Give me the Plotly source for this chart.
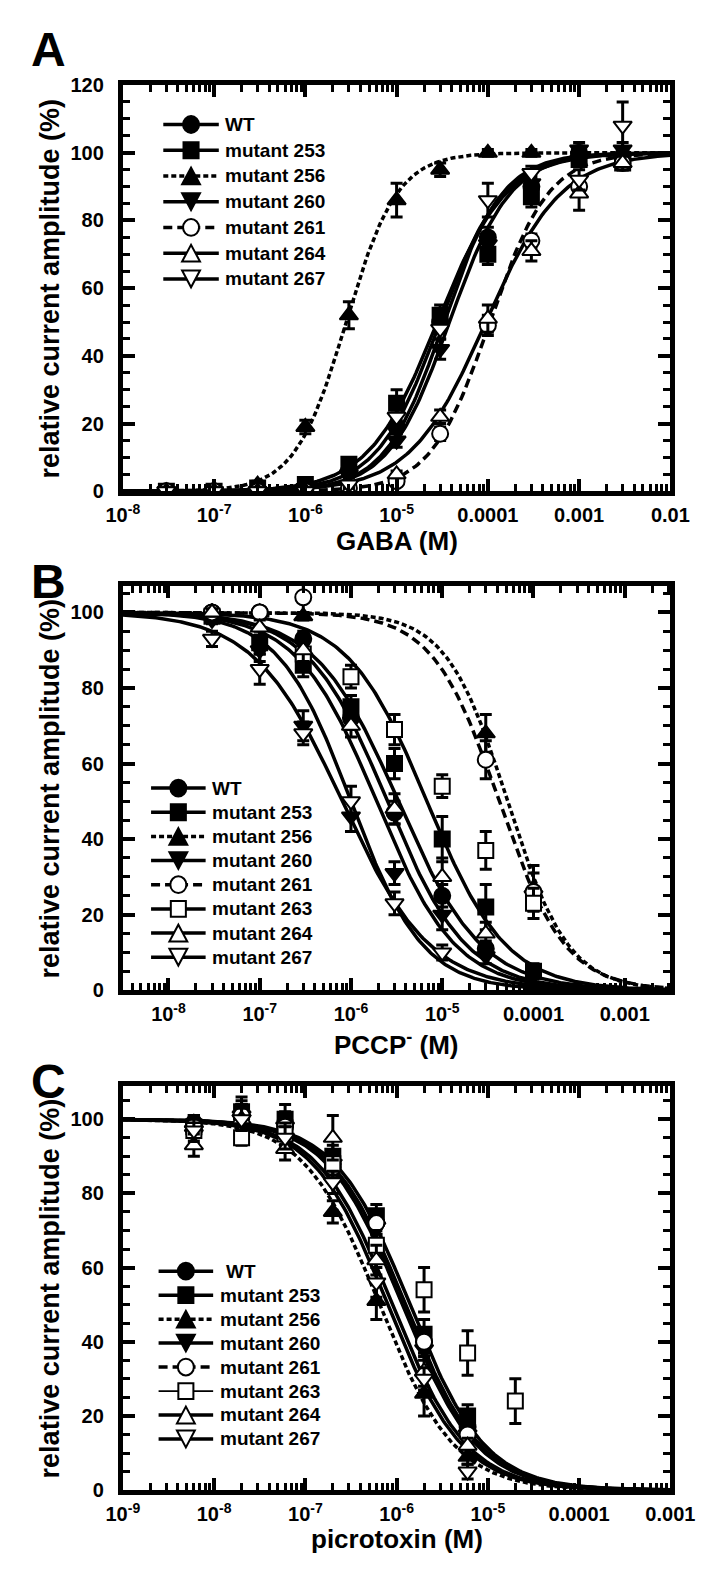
import numpy as np
import plotly.graph_objects as go

W, H = 709, 1573

# ---------------- data ----------------
names_A = ["WT", "mutant 253", "mutant 256", "mutant 260", "mutant 261", "mutant 264", "mutant 267"]
names_BC = ["WT", "mutant 253", "mutant 256", "mutant 260", "mutant 261", "mutant 263", "mutant 264", "mutant 267"]

# Panel A: GABA activation
gaba_conc = [3e-8, 1e-7, 3e-7, 1e-6, 3e-6, 1e-5, 3e-5, 1e-4, 3e-4, 1e-3, 3e-3]
A_WT = [0, 0, 0.5, 1, 6, 19, 50, 75, 90, 100, 99]
A_253 = [0, 0, 1, 2, 8, 26, 52, 70, 87, 98, 97]
A_256 = [0, 0, 2, 19, 52, 86, 95, 100, 100, 100, None]
A_260 = [0, 0, 0, 1, 5, 15, 42, 73, 91, 101, 101]
A_261 = [0, 0, 0, 0, 1, 3, 17, 49, 74, 90, 97]
A_264 = [0, 0, 0, 0, 0, 5, 22, 51, 71, 88, 97]
A_267 = [0, 0, 0, 0, 2, 22, 48, 86, 94, 92, 108]
A_WT_err = [1, 1, 1, 1, 1, 2, 3, 3, 2, 2, 2]
A_253_err = [1, 1, 1, 1, 2, 4, 3, 3, 3, 2, 2]
A_256_err = [1, 1, 1, 2, 4, 5, 2, 1, 1, 1, None]
A_260_err = [1, 1, 1, 1, 1, 2, 3, 3, 2, 2, 2]
A_261_err = [1, 1, 1, 1, 1, 1, 2, 3, 2, 2, 2]
A_264_err = [1, 1, 1, 1, 1, 1, 2, 4, 3, 5, 2]
A_267_err = [1, 1, 1, 1, 1, 2, 3, 5, 2, 3, 7]
A_EC50 = [3.0e-5, 2.8e-5, 2.8e-6, 3.8e-5, 1.05e-4, 9.5e-5, 3.3e-5]
A_nH = [1.25, 1.15, 1.55, 1.3, 1.35, 1.05, 1.35]

# Panel B: PCCP- inhibition
pccp_conc = [3e-8, 1e-7, 3e-7, 1e-6, 3e-6, 1e-5, 3e-5, 1e-4]
B_WT = [100, 100, 93, 72, 47, 25, 11, 0]
B_253 = [99, 92, 86, 75, 60, 40, 22, 5]
B_256 = [100, 100, 99, None, None, None, 68, 27]
B_260 = [98, 90, 70, 46, 31, 20, 9, None]
B_261 = [100, 100, 104, None, None, None, 61, 26]
B_263 = [None, None, 89, 83, 69, 54, 37, 23]
B_264 = [100, 96, 90, 70, 48, 30, 15, None]
B_267 = [93, 85, 68, 50, 23, 10, None, None]
B_WT_err = [1, 1, 2, 3, 3, 3, 2, 1]
B_253_err = [1, 3, 3, 3, 4, 6, 6, 2]
B_256_err = [1, 1, 1, None, None, None, 5, 6]
B_260_err = [1, 3, 4, 4, 3, 4, 2, None]
B_261_err = [1, 1, 4, None, None, None, 5, 5]
B_263_err = [None, None, 3, 3, 4, 3, 5, 4]
B_264_err = [1, 2, 3, 3, 4, 5, 3, None]
B_267_err = [2, 4, 3, 4, 3, 2, None, None]
B_IC50 = [2.5e-6, 3.3e-6, 5.2e-5, 0.8e-6, 4.2e-5, 6.8e-6, 1.9e-6, 1.0e-6]
B_nH = [1.0, 0.95, 1.3, 0.9, 1.2, 1.0, 1.0, 1.1]

# Panel C: picrotoxin inhibition
ptx_conc = [6e-9, 2e-8, 6e-8, 2e-7, 6e-7, 2e-6, 6e-6, 2e-5]
C_WT = [99, 101, 99, 88, 72, 40, 17, None]
C_253 = [98, 102, 100, 90, 74, 42, 20, None]
C_256 = [99, 102, 96, 75, 51, 26, 9, None]
C_260 = [96, 101, 98, 88, 71, 38, 15, None]
C_261 = [98, 101, 98, 87, 72, 40, 15, None]
C_263 = [97, 95, 96, 88, 66, 54, 37, 24]
C_264 = [93, 100, 92, 95, 62, 32, 12, None]
C_267 = [97, 100, 95, 83, 56, 30, 5, None]
C_WT_err = [2, 3, 3, 3, 3, 3, 2, None]
C_253_err = [3, 4, 4, 3, 3, 4, 3, None]
C_256_err = [2, 3, 3, 3, 5, 6, 2, None]
C_260_err = [3, 3, 3, 3, 3, 3, 2, None]
C_261_err = [2, 3, 3, 3, 3, 3, 2, None]
C_263_err = [2, 2, 3, 3, 4, 6, 6, 6]
C_264_err = [3, 3, 3, 6, 4, 4, 2, None]
C_267_err = [3, 3, 3, 3, 4, 3, 2, None]
C_IC50 = [1.25e-6, 1.4e-6, 0.65e-6, 1.15e-6, 1.2e-6, None, 0.9e-6, 0.8e-6]
C_nH = [1.05, 1.05, 1.05, 1.05, 1.05, None, 1.05, 1.05]

# tick labels
A_ticks = [1e-8, 1e-7, 1e-6, 1e-5, 1e-4, 1e-3, 1e-2]
A_ticktext = ["10<sup>-8</sup>", "10<sup>-7</sup>", "10<sup>-6</sup>", "10<sup>-5</sup>", "0.0001", "0.001", "0.01"]
B_ticks = [1e-8, 1e-7, 1e-6, 1e-5, 1e-4, 1e-3]
B_ticktext = ["10<sup>-8</sup>", "10<sup>-7</sup>", "10<sup>-6</sup>", "10<sup>-5</sup>", "0.0001", "0.001"]
C_ticks = [1e-9, 1e-8, 1e-7, 1e-6, 1e-5, 1e-4, 1e-3]
C_ticktext = ["10<sup>-9</sup>", "10<sup>-8</sup>", "10<sup>-7</sup>", "10<sup>-6</sup>", "10<sup>-5</sup>", "0.0001", "0.001"]

# ---------------- styles ----------------
FONT = "Liberation Sans, Arial, sans-serif"
symbols = {"WT": ("circle", "black"), "mutant 253": ("square", "black"),
           "mutant 256": ("triangle-up", "black"), "mutant 260": ("triangle-down", "black"),
           "mutant 261": ("circle", "white"), "mutant 263": ("square", "white"),
           "mutant 264": ("triangle-up", "white"), "mutant 267": ("triangle-down", "white")}
sizes = {"circle": 16, "square": 15, "triangle-up": 16, "triangle-down": 16}
dashes = {"mutant 256": "5px,3px", "mutant 261": "9px,5px"}

fig = go.Figure()


def px2x(p):
    return p / W


def px2y(p):
    return 1 - p / H


def add_panel(idx, conc, names, ys, errs, p50, nh, xr, activation):
    xa = "x" if idx == 1 else f"x{idx}"
    ya = "y" if idx == 1 else f"y{idx}"
    xs = np.logspace(xr[0], xr[1], 300)
    for n, c50, h in zip(names, p50, nh):
        if c50 is None:
            continue
        if activation:
            yc = 100.0 / (1.0 + (c50 / xs) ** h)
        else:
            yc = 100.0 / (1.0 + (xs / c50) ** h)
        fig.add_trace(go.Scatter(x=xs, y=yc, mode="lines", xaxis=xa, yaxis=ya,
                                 line=dict(color="black", width=3.5, dash=dashes.get(n, "solid")),
                                 showlegend=False, hoverinfo="skip"))
    for n, y, e in zip(names, ys, errs):
        sym, fill = symbols[n]
        fig.add_trace(go.Scatter(x=conc, y=y, mode="markers", xaxis=xa, yaxis=ya, name=n,
                                 marker=dict(symbol=sym, size=sizes[sym], color=fill,
                                             line=dict(color="black", width=2)),
                                 error_y=dict(type="data", array=e, visible=True, color="black",
                                              thickness=3, width=6),
                                 showlegend=False))


add_panel(1, gaba_conc, names_A,
          [A_WT, A_253, A_256, A_260, A_261, A_264, A_267],
          [A_WT_err, A_253_err, A_256_err, A_260_err, A_261_err, A_264_err, A_267_err],
          A_EC50, A_nH, (-8, -2), True)
add_panel(2, pccp_conc, names_BC,
          [B_WT, B_253, B_256, B_260, B_261, B_263, B_264, B_267],
          [B_WT_err, B_253_err, B_256_err, B_260_err, B_261_err, B_263_err, B_264_err, B_267_err],
          B_IC50, B_nH, (-8.5, -2.5), False)
add_panel(3, ptx_conc, names_BC,
          [C_WT, C_253, C_256, C_260, C_261, C_263, C_264, C_267],
          [C_WT_err, C_253_err, C_256_err, C_260_err, C_261_err, C_263_err, C_264_err, C_267_err],
          C_IC50, C_nH, (-9, -3), False)


def minor_vals(lo, hi):
    out = []
    for d in range(int(np.floor(lo)), int(np.ceil(hi)) + 1):
        for m in range(2, 10):
            v = m * 10.0 ** d
            if 10 ** lo <= v <= 10 ** hi:
                out.append(v)
    return out


tickfont = dict(family=FONT, size=20, color="black", weight="bold")
X0, X1 = 104, 686


def xaxis(xr, ticks, ticktext, anchor):
    return dict(type="log", range=list(xr), domain=[px2x(X0), px2x(X1)], anchor=anchor,
                showline=True, linewidth=5, linecolor="black", mirror="ticks",
                ticks="inside", ticklen=12, tickwidth=3.5, tickcolor="black",
                tickmode="array", tickvals=ticks, ticktext=ticktext, tickfont=tickfont,
                ticklabelstandoff=2,
                showgrid=False, zeroline=False,
                minor=dict(ticks="inside", ticklen=7, tickwidth=3, tickcolor="black",
                           tickmode="array", tickvals=minor_vals(*xr), showgrid=False))


def yaxis(top, dom, anchor):
    return dict(range=[0, top], domain=dom, anchor=anchor,
                showline=True, linewidth=5, linecolor="black", mirror="ticks",
                ticks="inside", ticklen=12, tickwidth=3.5, tickcolor="black",
                tick0=0, dtick=20, tickfont=tickfont, ticklabelstandoff=10,
                showgrid=False, zeroline=False,
                minor=dict(ticks="inside", ticklen=7, tickwidth=3, tickcolor="black",
                           dtick=5, showgrid=False))


A_top, A_bot = 67, 479
B_top, B_bot = 575, 985
C_top, C_bot = 1082, 1492

fig.update_layout(
    width=W, height=H, margin=dict(l=0, r=0, t=0, b=0),
    paper_bgcolor="white", plot_bgcolor="white", showlegend=False,
    xaxis=xaxis((-8, -2), A_ticks, A_ticktext, "y"),
    yaxis=yaxis(120, [px2y(A_bot), px2y(A_top)], "x"),
    xaxis2=xaxis((-8.5, -2.5), B_ticks, B_ticktext, "y2"),
    yaxis2=yaxis(107, [px2y(B_bot), px2y(B_top)], "x2"),
    xaxis3=xaxis((-9, -3), C_ticks, C_ticktext, "y3"),
    yaxis3=yaxis(109, [px2y(C_bot), px2y(C_top)], "x3"),
)

# ---------------- legends (drawn as keys + text) ----------------
shapes = []
ann = []


def marker_shape(sym, fill, cx, cy):
    line = dict(color="black", width=2)
    if sym == "circle":
        r = 8.5
        return dict(type="circle", xref="paper", yref="paper", x0=px2x(cx - r), x1=px2x(cx + r),
                    y0=px2y(cy + r), y1=px2y(cy - r), fillcolor=fill, line=line)
    if sym == "square":
        r = 8
        return dict(type="rect", xref="paper", yref="paper", x0=px2x(cx - r), x1=px2x(cx + r),
                    y0=px2y(cy + r), y1=px2y(cy - r), fillcolor=fill, line=line)
    hw, hh = 9.5, 8.5
    if sym == "triangle-up":
        pts = [(cx - hw, cy + hh), (cx + hw, cy + hh), (cx, cy - hh)]
    else:
        pts = [(cx - hw, cy - hh), (cx + hw, cy - hh), (cx, cy + hh)]
    path = "M " + " L ".join(f"{px2x(a):.5f},{px2y(b):.5f}" for a, b in pts) + " Z"
    return dict(type="path", xref="paper", yref="paper", path=path, fillcolor=fill, line=line)


legfont = dict(family=FONT, size=19, color="black", weight="bold")


def draw_legend(names, lx0, lx1, tx, y0, dy, thin=(), text_shift=None):
    text_shift = text_shift or {}
    for i, n in enumerate(names):
        cy = y0 + i * dy
        sym, fill = symbols[n]
        lw = 1.8 if n in thin else 3.5
        shapes.append(dict(type="line", xref="paper", yref="paper",
                           x0=px2x(lx0), x1=px2x(lx1), y0=px2y(cy), y1=px2y(cy),
                           line=dict(color="black", width=lw, dash=dashes.get(n, "solid"))))
        shapes.append(marker_shape(sym, fill, (lx0 + lx1) / 2, cy))
        ann.append(dict(text=n, x=px2x(tx + text_shift.get(n, 0)), y=px2y(cy), xref="paper", yref="paper",
                        xanchor="left", yanchor="middle", showarrow=False, font=legfont))


draw_legend(names_A, 147, 206, 210, 107, 26.1)
draw_legend(names_BC, 134, 192, 197, 780, 24.5)
draw_legend(names_BC, 142, 200, 205, 1270, 24.3, thin=("mutant 263",), text_shift={"WT": 6})

# ---------------- text ----------------
for letter, yc in [("A", 31), ("B", 570), ("C", 1078)]:
    ann.append(dict(text=letter, x=px2x(25), y=px2y(yc), xref="paper", yref="paper",
                    xanchor="center", yanchor="middle", showarrow=False,
                    font=dict(family=FONT, size=48, color="black", weight="bold")))
for txt, yc in [("GABA (M)", 529), ("PCCP<sup>-</sup> (M)", 1039), ("picrotoxin (M)", 1542)]:
    ann.append(dict(text=txt, x=px2x((X0 + X1) / 2), y=px2y(yc), xref="paper", yref="paper",
                    xanchor="center", yanchor="middle", showarrow=False,
                    font=dict(family=FONT, size=26, color="black", weight="bold")))
for top, bot in [(A_top, A_bot), (B_top, B_bot), (C_top, C_bot)]:
    ann.append(dict(text="relative current amplitude (%)", x=px2x(27), y=px2y((top + bot) / 2),
                    xref="paper", yref="paper", textangle=-90, showarrow=False,
                    xanchor="center", yanchor="middle",
                    font=dict(family=FONT, size=27, color="black", weight="bold")))

fig.update_layout(shapes=shapes, annotations=ann)

fig.write_html("out.html")
